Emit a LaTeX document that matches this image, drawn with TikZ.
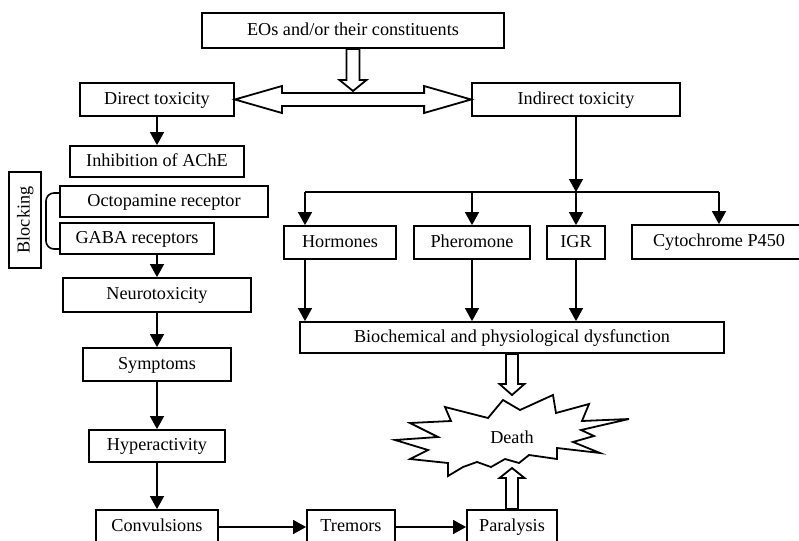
\documentclass[tikz,border=0pt]{standalone}
\usepackage{fontspec}
\setmainfont{Liberation Serif}
\usepackage{tikz}
\usetikzlibrary{arrows.meta, calc}

\providecommand{\Block}[6]{
  % name, x1, y1, x2, y2, text
  \node[box, minimum width={(#4-#2)*0.5pt}, minimum height={(#5-#3)*0.5pt}] (#1) at ({(#2+#4)/2},{(#3+#5)/2}) {#6};
}
\providecommand{\Hollow}[5]{
  % start, tip, head length, half shaft, half head
  \coordinate(hstart) at (#1);
  \coordinate(htip) at (#2);
  \coordinate(hbase) at ($ (htip)!#3!(hstart) $);
  \filldraw[hollow] ($ (hstart)!#4!90:(htip) $) -- ($ (hbase)!#4!-90:(hstart) $) -- ($ (hbase)!#5!-90:(hstart) $) -- (htip) -- ($ (hbase)!#5!90:(hstart) $) -- ($ (hbase)!#4!90:(hstart) $) -- ($ (hstart)!#4!-90:(htip) $) -- cycle;
}

\begin{document}
\begin{tikzpicture}[x=0.5pt, y=-0.5pt, font=\fontsize{9.1}{11}\selectfont,
	box/.style={draw, line width=0.9pt, fill=white, inner sep=0pt, text height=6.6pt, text depth=2pt},
	link/.style={line width=0.7pt, -{Triangle[length=6.5pt, width=7pt]}},
	hollow/.style={line width=0.9pt, fill=white, line join=miter}]

	\useasboundingbox (0,0) rectangle (799,541);

	\Block{eos}{202}{13}{504}{48}{EOs and/or their constituents}
	\Block{direct}{80}{83}{234}{116}{Direct toxicity}
	\Block{indirect}{472}{83}{680}{116}{Indirect toxicity}

	\Block{ache}{70}{146}{244}{177}{Inhibition of AChE}
	\Block{octo}{60}{186}{268}{217}{Octopamine receptor}
	\Block{gaba}{60}{223}{214}{254}{GABA receptors}
	\node[box, rotate=90, minimum width=48pt, minimum height=16pt] (blocking) at (25,220) {Blocking};
	\Block{neuro}{63}{278}{251}{312}{Neurotoxicity}
	\Block{symptoms}{83}{348}{231}{381}{Symptoms}
	\Block{hyper}{89}{430}{225}{462}{Hyperactivity}
	\Block{conv}{96}{510}{218}{544}{Convulsions}
	\Block{tremors}{307}{510}{395}{544}{Tremors}
	\Block{paralysis}{467}{510}{557}{544}{Paralysis}

	\Block{hormones}{284}{226}{396}{259}{Hormones}
	\Block{pheromone}{414}{226}{530}{259}{Pheromone}
	\Block{igr}{547}{226}{605}{259}{IGR}
	\Block{cyto}{632}{225}{806}{259}{Cytochrome P450}
	\Block{biochem}{300}{322}{724}{353}{Biochemical and physiological dysfunction}

	\coordinate (bus) at (576,192);
	\coordinate (busL) at (305,192);
	\coordinate (busR) at (719,192);
	\coordinate (split) at (353,91);
	\coordinate (deathtop) at (512,395);
	\coordinate (deathbot) at (512,468);

	% left column
	\draw[link] (direct) -- (direct |- ache.north);
	\draw[link] (gaba.south -| neuro) -- (neuro);
	\draw[link] (neuro) -- (neuro |- symptoms.north);
	\draw[link] (symptoms) -- (symptoms |- hyper.north);
	\draw[link] (hyper) -- (hyper |- conv.north);
	\draw[link] (conv) -- (tremors);
	\draw[link] (tremors) -- (paralysis);
	\draw[line width=0.8pt, rounded corners=4pt] (60,193) -| (46,221) |- (60,249);

	% right branch
	\draw[link] (indirect) -- (bus);
	\draw[line width=0.7pt] (busL) -- (busR);
	\draw[link] (busL) -- (busL |- hormones.north);
	\draw[link] (bus -| pheromone) -- (pheromone);
	\draw[link] (bus) -- (igr);
	\draw[link] (busR) -- (busR |- cyto.north);
	\draw[link] (busL |- hormones.south) -- (busL |- biochem.north);
	\draw[link] (pheromone) -- (pheromone |- biochem.north);
	\draw[link] (igr) -- (igr |- biochem.north);

	\filldraw[hollow] (direct.east) -- ++(47,-13.5) -- ++(0,7) -- ($ (indirect.west)+(-47,-6.5) $) -- ++(0,-7) -- (indirect.west) -- ++(-47,13.5) -- ++(0,-7) -- ($ (direct.east)+(47,6.5) $) -- ++(0,7) -- cycle;
	\Hollow{eos.south}{split}{5.5pt}{3.25pt}{6.75pt}
	\Hollow{biochem.south}{deathtop}{5.5pt}{3pt}{6.25pt}
	\Hollow{paralysis.north}{deathbot}{5pt}{3pt}{6.25pt}

	\filldraw[line width=0.9pt, fill=white, line join=miter] (503,400) -- (520,410) -- (553,395) -- (556,413) -- (589,404) -- (582,421) -- (629,419) -- (581,430) -- (594,436) -- (573,442) -- (600,453) -- (557,448) -- (557,459) -- (529,455) -- (519,463) -- (505,459) -- (491,467) -- (477,462) -- (463,467) -- (448,476) -- (448,463) -- (410,459) -- (428,450) -- (395,440) -- (438,437) -- (410,423) -- (451,421) -- (445,407) -- (488,418) -- cycle;
	\node (death) at (512,437) {Death};

\end{tikzpicture}
\end{document}
